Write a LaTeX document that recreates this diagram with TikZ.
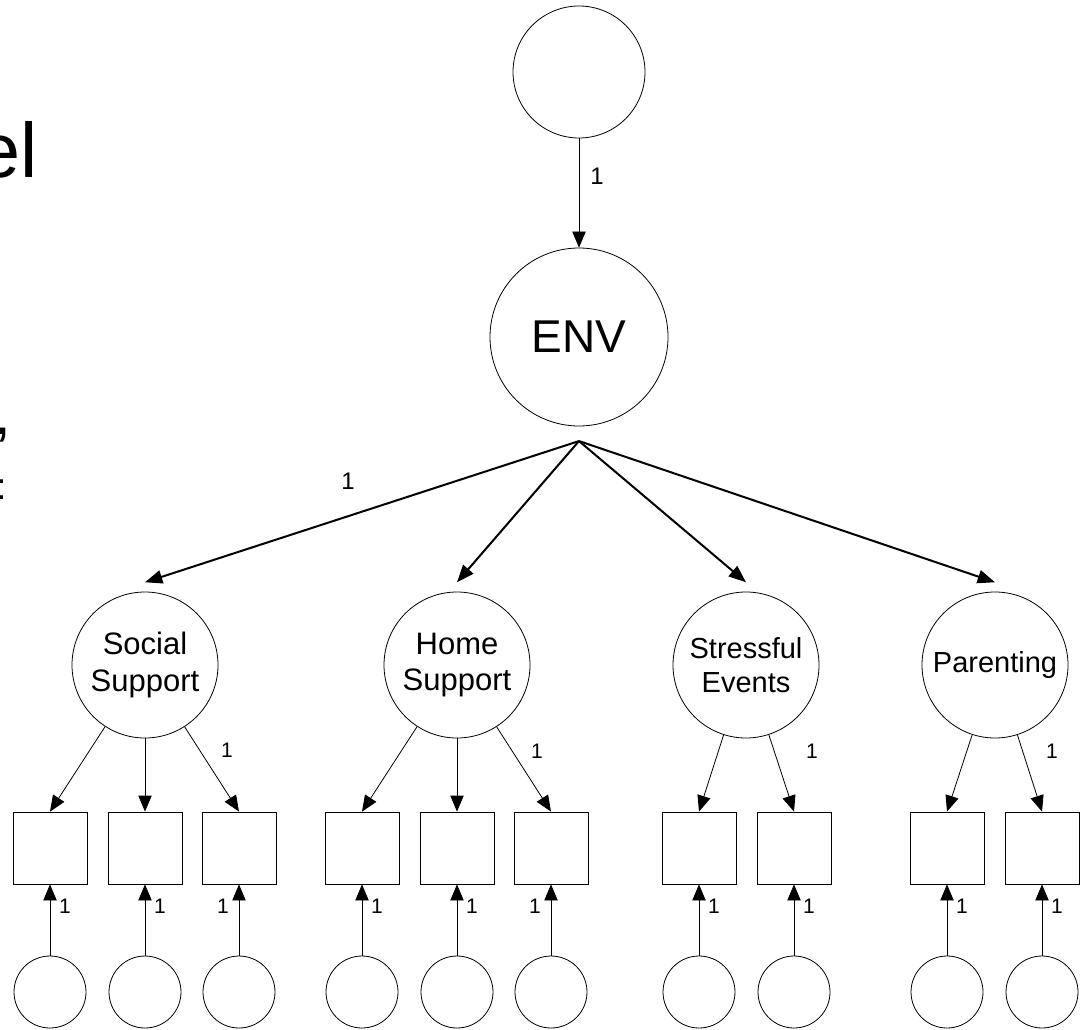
\documentclass[tikz,border=0pt]{standalone}
\usepackage{fontspec}
\setmainfont{Liberation Sans}
\usetikzlibrary{arrows.meta}

\newlength\unitpx
\setlength\unitpx{0.75pt}

\begin{document}
\begin{tikzpicture}[x=\unitpx, y=-\unitpx, line width=0.6pt,
		>={Triangle[length=12pt, width=10pt]},
		lat/.style={draw, circle, inner sep=0pt, minimum size=109.5pt, align=center,
			font=\fontsize{23.25}{27.4}\selectfont},
		latsmall/.style={lat, font=\fontsize{21.75}{26}\selectfont},
		obs/.style={draw, rectangle, inner sep=0pt, minimum width=55.5pt, minimum height=54pt},
		err/.style={draw, circle, inner sep=0pt, minimum size=54pt},
		lbl/.style={inner sep=0pt, font=\fontsize{15.75}{18}\selectfont},
		biglbl/.style={inner sep=0pt, font=\fontsize{18}{20}\selectfont},
		envarrow/.style={->, line width=1.5pt, >={Triangle[length=13pt, width=10pt]}}]
	
	\useasboundingbox (0,0) rectangle (1080,1030);
	
	% === Cut-off title text at the left edge ===
	\node[anchor=base east, inner sep=0pt, font=\fontsize{58}{60}\selectfont] (ttl) at (38,178) {el};
	\node[anchor=base east, inner sep=0pt, font=\fontsize{45}{48}\selectfont] (cma) at (12,434) {,};
	\node[anchor=base east, inner sep=0pt, font=\fontsize{28}{30}\selectfont] (cln) at (7,499) {:};
	
	% === Second order factor ===
	\node[draw, circle, inner sep=0pt, minimum size=99pt] (dist) at (579,72) {};
	\node[draw, circle, inner sep=0pt, minimum size=133.5pt,
		font=\fontsize{34.5}{36}\selectfont] (env) at (579,337) {ENV};
	\draw[->] (dist) -- (env);
	\node[biglbl] (ldist) at (597,176) {1};
	
	\coordinate (envfoot) at ([yshift=-11pt]env.south);
	
	% === First order factors ===
	\node[lat] (soc) at (145,665) {Social\\Support};
	\node[lat] (home) at (457,665) {Home\\Support};
	\node[latsmall] (stress) at (746,665) {Stressful\\Events};
	\node[latsmall] (par) at (995,665) {Parenting};
	
	\foreach \n in {soc,home,stress,par}
	\draw[envarrow] (envfoot) -- ([yshift=7pt]\n.north);
	\node[biglbl] (lsoc) at (348,481) {1};
	
	% === Indicators with their residuals ===
	\foreach \n/\x/\d in {s1/50/15, s2/145/15, s3/239/-16, h1/362/15, h2/457/15, h3/551/-16,
		t1/699/15, t2/794/15, p1/947/15, p2/1042/15} {
		\node[obs] (\n) at (\x,848) {};
		\node[err] (e\n) at (\x,992) {};
		\draw[->] (e\n) -- (\n);
		\node[lbl] (l\n) at ({\x+(\d)},906) {1};
	}
	
	% === Loadings ===
	\foreach \n in {s1,s2,s3} \draw[->] (soc) -- (\n.north);
	\foreach \n in {h1,h2,h3} \draw[->] (home) -- (\n.north);
	\foreach \n in {t1,t2} \draw[->] (stress) -- (\n.north);
	\foreach \n in {p1,p2} \draw[->] (par) -- (\n.north);
	
	\node[lbl] (lls) at (227,750) {1};
	\node[lbl] (llh) at (537,751) {1};
	\node[lbl] (llt) at (812,751) {1};
	\node[lbl] (llp) at (1052,751) {1};
	
\end{tikzpicture}
\end{document}
